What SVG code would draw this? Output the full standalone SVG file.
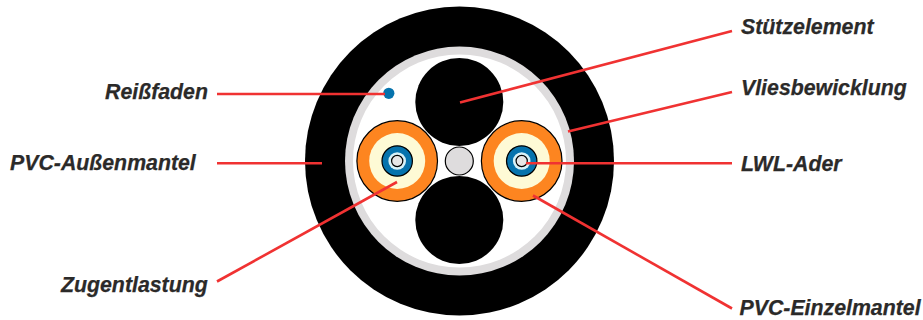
<svg xmlns="http://www.w3.org/2000/svg" width="923" height="320" viewBox="0 0 923 320">
<style>
.l{font-family:"Liberation Sans",Arial,sans-serif;font-size:21.3px;font-weight:bold;font-style:italic;fill:#2b2a29;stroke:#2b2a29;stroke-width:0.25}
.c{fill:none;stroke:#f03232;stroke-width:2.6}
.k{fill:#000}
.s{stroke:#000;stroke-width:1.2}
</style>
<rect width="923" height="320" fill="#fff"/>
<g id="mantel"><circle class="k" cx="459.5" cy="161" r="154.5"/></g>
<g id="vlies"><circle cx="459.5" cy="161" r="114.5" fill="#dedcdd"/><circle cx="459.5" cy="161" r="106.5" fill="#fff"/></g>
<g id="stuetz-top"><circle class="k" cx="459.3" cy="102" r="44"/></g>
<g id="stuetz-bottom"><circle class="k" cx="459.3" cy="220" r="44"/></g>
<g id="center"><circle class="s" cx="459.3" cy="161" r="14" fill="#dedcdd"/></g>
<g id="reissfaden"><circle cx="388.8" cy="93.3" r="5.6" fill="#0673ad"/></g>
<g id="ader-left">
<circle class="s" cx="397.2" cy="161" r="40.3" fill="#fd8520"/>
<circle cx="397.2" cy="161" r="28" fill="#fefad5"/>
<circle class="s" cx="397.2" cy="161" r="15.2" fill="#0673ad"/>
<circle cx="397.2" cy="161" r="8.8" fill="#d8f2f8"/>
<circle class="s" cx="397.2" cy="161" r="5.6" fill="#e6e6e6"/>
</g>
<g id="ader-right">
<circle class="s" cx="521.7" cy="161" r="40.3" fill="#fd8520"/>
<circle cx="521.7" cy="161" r="28" fill="#fefad5"/>
<circle class="s" cx="521.7" cy="161" r="15.2" fill="#0673ad"/>
<circle cx="521.7" cy="161" r="8.8" fill="#d8f2f8"/>
<circle class="s" cx="521.7" cy="161" r="5.6" fill="#e6e6e6"/>
</g>
<g id="connectors">
<line class="c" x1="460" y1="102.5" x2="732" y2="31"/>
<line class="c" x1="568" y1="131.500" x2="732" y2="92"/>
<line class="c" x1="217" y1="94" x2="385" y2="94"/>
<line class="c" x1="217" y1="163.300" x2="322" y2="163.300"/>
<line class="c" x1="526" y1="163.300" x2="732" y2="163.300"/>
<line class="c" x1="217" y1="281.500" x2="397" y2="182"/>
<line class="c" x1="533" y1="195.500" x2="732" y2="308.500"/>
</g>
<g id="labels">
<text class="l" x="741" y="33.500">Stützelement</text>
<text class="l" x="741" y="95">Vliesbewicklung</text>
<text class="l" x="105" y="99">Reißfaden</text>
<text class="l" x="10" y="170">PVC-Außenmantel</text>
<text class="l" x="741" y="171">LWL-Ader</text>
<text class="l" x="61" y="292">Zugentlastung</text>
<text class="l" x="739.500" y="315">PVC-Einzelmantel</text>
</g>
</svg>
